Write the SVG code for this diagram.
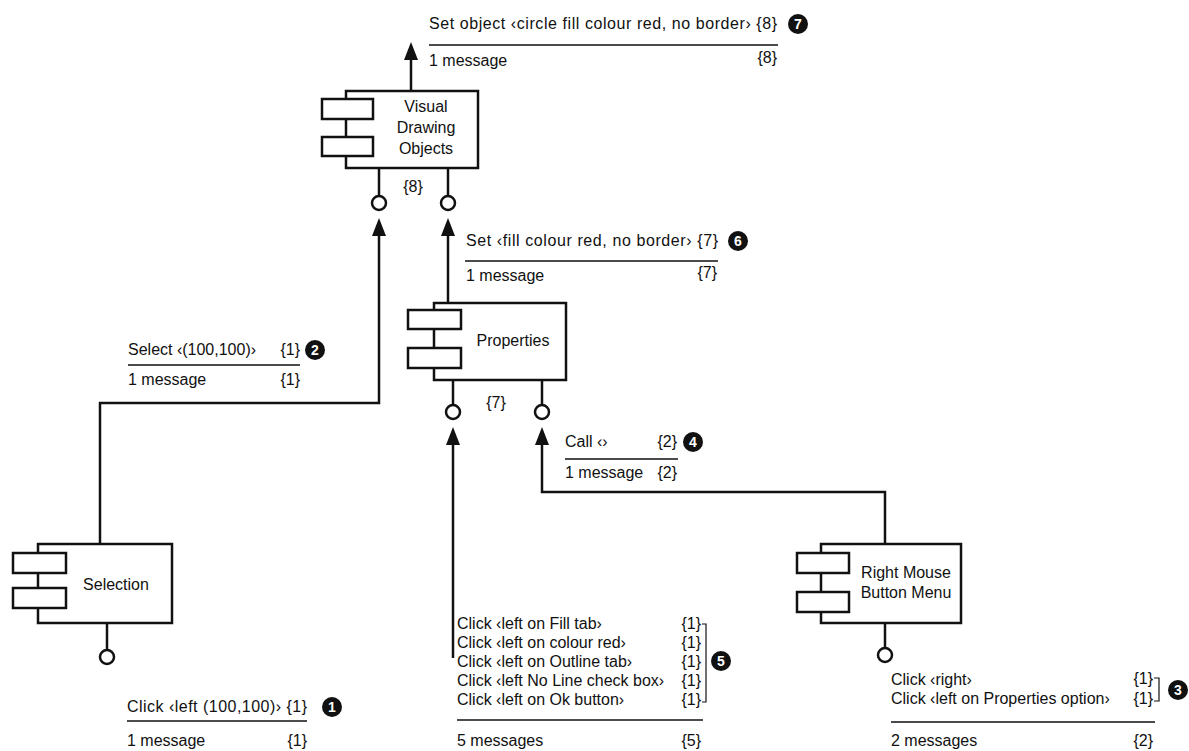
<svg xmlns="http://www.w3.org/2000/svg" width="1189" height="751" viewBox="0 0 1189 751">
<defs>
<style>
.t{font-family:"Liberation Sans",Arial,sans-serif;font-size:16px;fill:#111}
.r{text-anchor:end}
.m{text-anchor:middle}
.box{fill:#fff;stroke:#111;stroke-width:2.5}
.ln{fill:none;stroke:#111;stroke-width:2.5}
.sock{fill:#fff;stroke:#111;stroke-width:2.5}
.ul{stroke:#111;stroke-width:1.3}
.bd{fill:#111}
.bn{font-family:"Liberation Sans",Arial,sans-serif;font-size:14px;font-weight:bold;fill:#fff;text-anchor:middle}
.br{fill:none;stroke:#111;stroke-width:1.2}
</style>
<marker id="ah" markerUnits="userSpaceOnUse" markerWidth="18" markerHeight="14" refX="11" refY="7" orient="auto">
<path d="M0,0 L18,7 L0,14 z" fill="#111"/>
</marker>
</defs>
<rect width="1189" height="751" fill="#fff"/>

<g id="connectors">
<path class="ln" d="M100,544 V403 H379 V225" marker-end="url(#ah)"/>
<path class="ln" d="M411,91 V49" marker-end="url(#ah)"/>
<path class="ln" d="M448,303 V225" marker-end="url(#ah)"/>
<path class="ln" d="M453,658 V434" marker-end="url(#ah)"/>
<path class="ln" d="M885,544 V492 H542 V434" marker-end="url(#ah)"/>
</g>

<g id="visual-drawing-objects">
<line class="ln" x1="379" y1="168" x2="379" y2="196"/>
<line class="ln" x1="448" y1="168" x2="448" y2="196"/>
<circle class="sock" cx="379" cy="203" r="7"/>
<circle class="sock" cx="448" cy="203" r="7"/>
<rect class="box" x="346" y="91" width="132" height="77"/>
<rect class="box" x="322" y="99" width="51" height="20"/>
<rect class="box" x="322" y="137" width="51" height="19"/>
<text class="t m" x="426" y="112">Visual</text>
<text class="t m" x="426" y="133">Drawing</text>
<text class="t m" x="426" y="154">Objects</text>
<text class="t m" x="413" y="192">{8}</text>
</g>

<g id="properties">
<line class="ln" x1="453" y1="380" x2="453" y2="405"/>
<line class="ln" x1="542" y1="380" x2="542" y2="405"/>
<circle class="sock" cx="453" cy="412" r="7"/>
<circle class="sock" cx="542" cy="412" r="7"/>
<rect class="box" x="434" y="303" width="132" height="77"/>
<rect class="box" x="408" y="310" width="53" height="19"/>
<rect class="box" x="408" y="348" width="53" height="20"/>
<text class="t m" x="513" y="346">Properties</text>
<text class="t m" x="496" y="408">{7}</text>
</g>

<g id="selection">
<line class="ln" x1="107" y1="623" x2="107" y2="650"/>
<circle class="sock" cx="107" cy="657" r="7"/>
<rect class="box" x="38" y="544" width="134" height="79"/>
<rect class="box" x="13" y="553" width="53" height="20"/>
<rect class="box" x="13" y="588" width="53" height="20"/>
<text class="t m" x="116" y="590">Selection</text>
</g>

<g id="right-mouse-button-menu">
<line class="ln" x1="885" y1="623" x2="885" y2="648"/>
<circle class="sock" cx="885" cy="655" r="7"/>
<rect class="box" x="821" y="544" width="140" height="79"/>
<rect class="box" x="797" y="553" width="52" height="20"/>
<rect class="box" x="797" y="592" width="52" height="20"/>
<text class="t m" x="906" y="578">Right Mouse</text>
<text class="t m" x="906" y="598">Button Menu</text>
</g>

<g id="label-7">
<text class="t" x="429" y="29" textLength="348" lengthAdjust="spacing">Set object ‹circle fill colour red, no border› {8}</text>
<line class="ul" x1="429" y1="45" x2="778" y2="45"/>
<text class="t" x="429" y="66">1 message</text>
<text class="t r" x="777" y="63">{8}</text>
<circle class="bd" cx="798" cy="24" r="10"/>
<text class="bn" x="798" y="29">7</text>
</g>

<g id="label-6">
<text class="t" x="466" y="246" textLength="252" lengthAdjust="spacing">Set ‹fill colour red, no border› {7}</text>
<line class="ul" x1="465" y1="261" x2="718" y2="261"/>
<text class="t" x="466" y="281">1 message</text>
<text class="t r" x="717" y="278">{7}</text>
<circle class="bd" cx="738" cy="241" r="10"/>
<text class="bn" x="738" y="246">6</text>
</g>

<g id="label-2">
<text class="t" x="128" y="355">Select ‹(100,100)›</text>
<text class="t r" x="300" y="355">{1}</text>
<line class="ul" x1="128" y1="365" x2="300" y2="365"/>
<text class="t" x="128" y="385">1 message</text>
<text class="t r" x="300" y="385">{1}</text>
<circle class="bd" cx="315" cy="350" r="10"/>
<text class="bn" x="315" y="355">2</text>
</g>

<g id="label-4">
<text class="t" x="565" y="447">Call ‹›</text>
<text class="t r" x="677" y="447">{2}</text>
<line class="ul" x1="565" y1="459" x2="678" y2="459"/>
<text class="t" x="565" y="478">1 message</text>
<text class="t r" x="677" y="478">{2}</text>
<circle class="bd" cx="693" cy="442" r="10"/>
<text class="bn" x="693" y="447">4</text>
</g>

<g id="label-1">
<text class="t" x="127" y="712" textLength="180" lengthAdjust="spacing">Click ‹left (100,100)› {1}</text>
<line class="ul" x1="127" y1="721" x2="307" y2="721"/>
<text class="t" x="127" y="746">1 message</text>
<text class="t r" x="307" y="746">{1}</text>
<circle class="bd" cx="332" cy="707" r="10"/>
<text class="bn" x="332" y="712">1</text>
</g>

<g id="label-5">
<text class="t" x="457" y="629">Click ‹left on Fill tab›</text>
<text class="t" x="457" y="648">Click ‹left on colour red›</text>
<text class="t" x="457" y="667">Click ‹left on Outline tab›</text>
<text class="t" x="457" y="686">Click ‹left No Line check box›</text>
<text class="t" x="457" y="705">Click ‹left on Ok button›</text>
<text class="t r" x="701" y="629">{1}</text>
<text class="t r" x="701" y="648">{1}</text>
<text class="t r" x="701" y="667">{1}</text>
<text class="t r" x="701" y="686">{1}</text>
<text class="t r" x="701" y="705">{1}</text>
<path class="br" d="M702,624 H706 V702 H702"/>
<line class="ul" x1="457" y1="720" x2="703" y2="720"/>
<text class="t" x="457" y="746">5 messages</text>
<text class="t r" x="701" y="746">{5}</text>
<circle class="bd" cx="721" cy="661" r="10"/>
<text class="bn" x="721" y="666">5</text>
</g>

<g id="label-3">
<text class="t" x="891" y="685">Click ‹right›</text>
<text class="t" x="891" y="704">Click ‹left on Properties option›</text>
<text class="t r" x="1153" y="684">{1}</text>
<text class="t r" x="1153" y="704">{1}</text>
<path class="br" d="M1154,678 H1159 V701 H1154"/>
<line class="ul" x1="891" y1="722" x2="1155" y2="722"/>
<text class="t" x="891" y="746">2 messages</text>
<text class="t r" x="1153" y="746">{2}</text>
<circle class="bd" cx="1178" cy="690" r="10"/>
<text class="bn" x="1178" y="695">3</text>
</g>
</svg>
